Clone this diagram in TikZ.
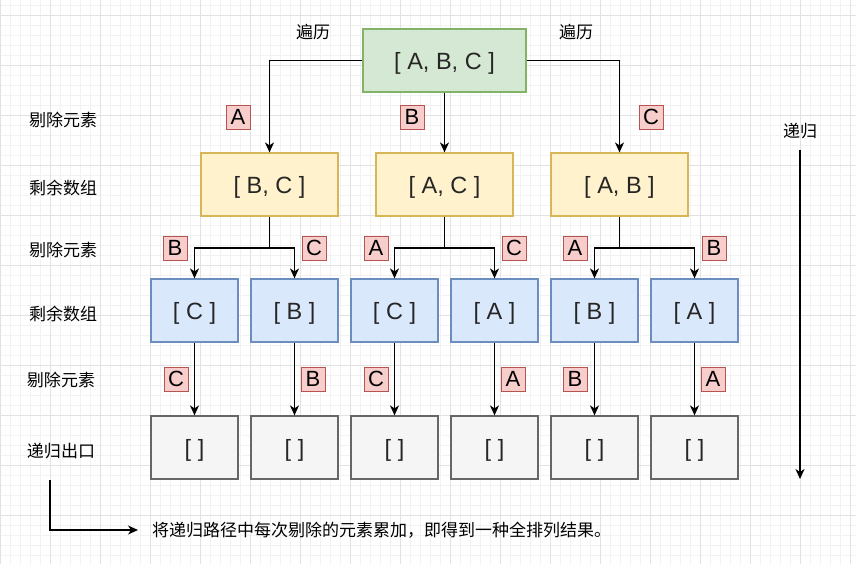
\documentclass[tikz,border=0pt]{standalone}
\usepackage{fontspec}
\setmainfont{Liberation Sans}
\newfontfamily\cjk{Noto Sans CJK SC}
\usetikzlibrary{arrows.meta}
\begin{document}
\begin{tikzpicture}[x=1pt,y=-1pt,
  box/.style={draw,line width=1.2pt,minimum width=87pt,minimum height=63pt,inner sep=0pt,text height=18pt,text depth=0pt,font=\fontsize{23.5}{27}\selectfont,text=black!85},
  gbox/.style={box,fill={rgb,255:red,213;green,232;blue,212},draw={rgb,255:red,130;green,179;blue,102},minimum width=163pt},
  ybox/.style={box,fill={rgb,255:red,255;green,242;blue,204},draw={rgb,255:red,214;green,182;blue,86},minimum width=137pt},
  bbox/.style={box,fill={rgb,255:red,218;green,232;blue,252},draw={rgb,255:red,108;green,142;blue,191}},
  ebox/.style={box,fill={rgb,255:red,245;green,245;blue,245},draw={rgb,255:red,102;green,102;blue,102}},
  rlab/.style={draw={rgb,255:red,184;green,84;blue,80},fill={rgb,255:red,248;green,206;blue,204},line width=0.8pt,minimum width=24pt,minimum height=24pt,inner sep=0pt,font=\fontsize{22}{25}\selectfont},
  clab/.style={font=\cjk\fontsize{17}{20}\selectfont,inner sep=0pt},
  arr/.style={line width=1.3pt,-{Stealth[length=10pt,width=9pt,inset=3pt]}},
  ln/.style={line width=1.3pt},
  minorg/.style={line width=0.5pt,draw={rgb,255:red,242;green,242;blue,242}},
  majorg/.style={line width=0.8pt,draw={rgb,255:red,226;green,226;blue,226}}]
\useasboundingbox (0,0) rectangle (856,564);
\fill[white] (0,0) rectangle (856,564);
% grid
\foreach \x in {0,10,...,850} {\draw[minorg] (\x,0) -- (\x,564);}
\foreach \y in {5,15,...,564} {\draw[minorg] (0,\y) -- (856,\y);}
\foreach \x in {0,50,...,850} {\draw[majorg] (\x,0) -- (\x,564);}
\foreach \y in {15,65,...,564} {\draw[majorg] (0,\y) -- (856,\y);}

% nodes
\node[gbox] (top) at (444.5,60.5) {[ A, B, C ]};
\node[ybox] (y1) at (269.5,184.5) {[ B, C ]};
\node[ybox] (y2) at (444.5,184.5) {[ A, C ]};
\node[ybox] (y3) at (619.5,184.5) {[ A, B ]};
\node[bbox] (b1) at (194.5,310.5) {[ C ]};
\node[bbox] (b2) at (294.5,310.5) {[ B ]};
\node[bbox] (b3) at (394.5,310.5) {[ C ]};
\node[bbox] (b4) at (494.5,310.5) {[ A ]};
\node[bbox] (b5) at (594.5,310.5) {[ B ]};
\node[bbox] (b6) at (694.5,310.5) {[ A ]};
\node[ebox] (e1) at (194.5,447.5) {[ ]};
\node[ebox] (e2) at (294.5,447.5) {[ ]};
\node[ebox] (e3) at (394.5,447.5) {[ ]};
\node[ebox] (e4) at (494.5,447.5) {[ ]};
\node[ebox] (e5) at (594.5,447.5) {[ ]};
\node[ebox] (e6) at (694.5,447.5) {[ ]};

% labels
\node[clab] (t1) at (313,32) {遍历};
\node[clab] (t2) at (576,32) {遍历};
\node[clab] (l1) at (63,120) {剔除元素};
\node[clab] (l2) at (63,188) {剩余数组};
\node[clab] (l3) at (63,250) {剔除元素};
\node[clab] (l4) at (63,314) {剩余数组};
\node[clab] (l5) at (61,380) {剔除元素};
\node[clab] (l6) at (61,451) {递归出口};
\node[clab] (rec) at (800,131) {递归};
\node[clab,anchor=west] (fin) at (152,530) {将递归路径中每次剔除的元素累加，即得到一种全排列结果。};

\node[rlab] (ra) at (238,117) {A};
\node[rlab] (rb) at (412,117) {B};
\node[rlab] (rc) at (651,117) {C};
\node[rlab] (s1) at (175,248) {B};
\node[rlab] (s2) at (314,248) {C};
\node[rlab] (s3) at (376,248) {A};
\node[rlab] (s4) at (514,248) {C};
\node[rlab] (s5) at (575,248) {A};
\node[rlab] (s6) at (714,248) {B};
\node[rlab] (u1) at (176,379) {C};
\node[rlab] (u2) at (313,379) {B};
\node[rlab] (u3) at (376,379) {C};
\node[rlab] (u4) at (513,379) {A};
\node[rlab] (u5) at (575,379) {B};
\node[rlab] (u6) at (713,379) {A};

% connectors
\draw[arr] (top.west) -| (y1.north);
\draw[arr] (top.south) -- (y2.north);
\draw[arr] (top.east) -| (y3.north);

\coordinate (j1) at (269.5,248);
\coordinate (j2) at (444.5,248);
\coordinate (j3) at (619.5,248);
\draw[ln] (y1.south) -- (j1);
\draw[ln] (y2.south) -- (j2);
\draw[ln] (y3.south) -- (j3);
\draw[arr] (j1) -| (b1.north);
\draw[arr] (j1) -| (b2.north);
\draw[arr] (j2) -| (b3.north);
\draw[arr] (j2) -| (b4.north);
\draw[arr] (j3) -| (b5.north);
\draw[arr] (j3) -| (b6.north);

\draw[arr] (b1.south) -- (e1.north);
\draw[arr] (b2.south) -- (e2.north);
\draw[arr] (b3.south) -- (e3.north);
\draw[arr] (b4.south) -- (e4.north);
\draw[arr] (b5.south) -- (e5.north);
\draw[arr] (b6.south) -- (e6.north);

\coordinate (recend) at (800,479);
\draw[arr,shorten <=11pt] (rec.south) -- (recend);

\coordinate (c1) at (50,480);
\draw[arr,shorten >=14pt] (c1) |- (fin.west);
\end{tikzpicture}
\end{document}
